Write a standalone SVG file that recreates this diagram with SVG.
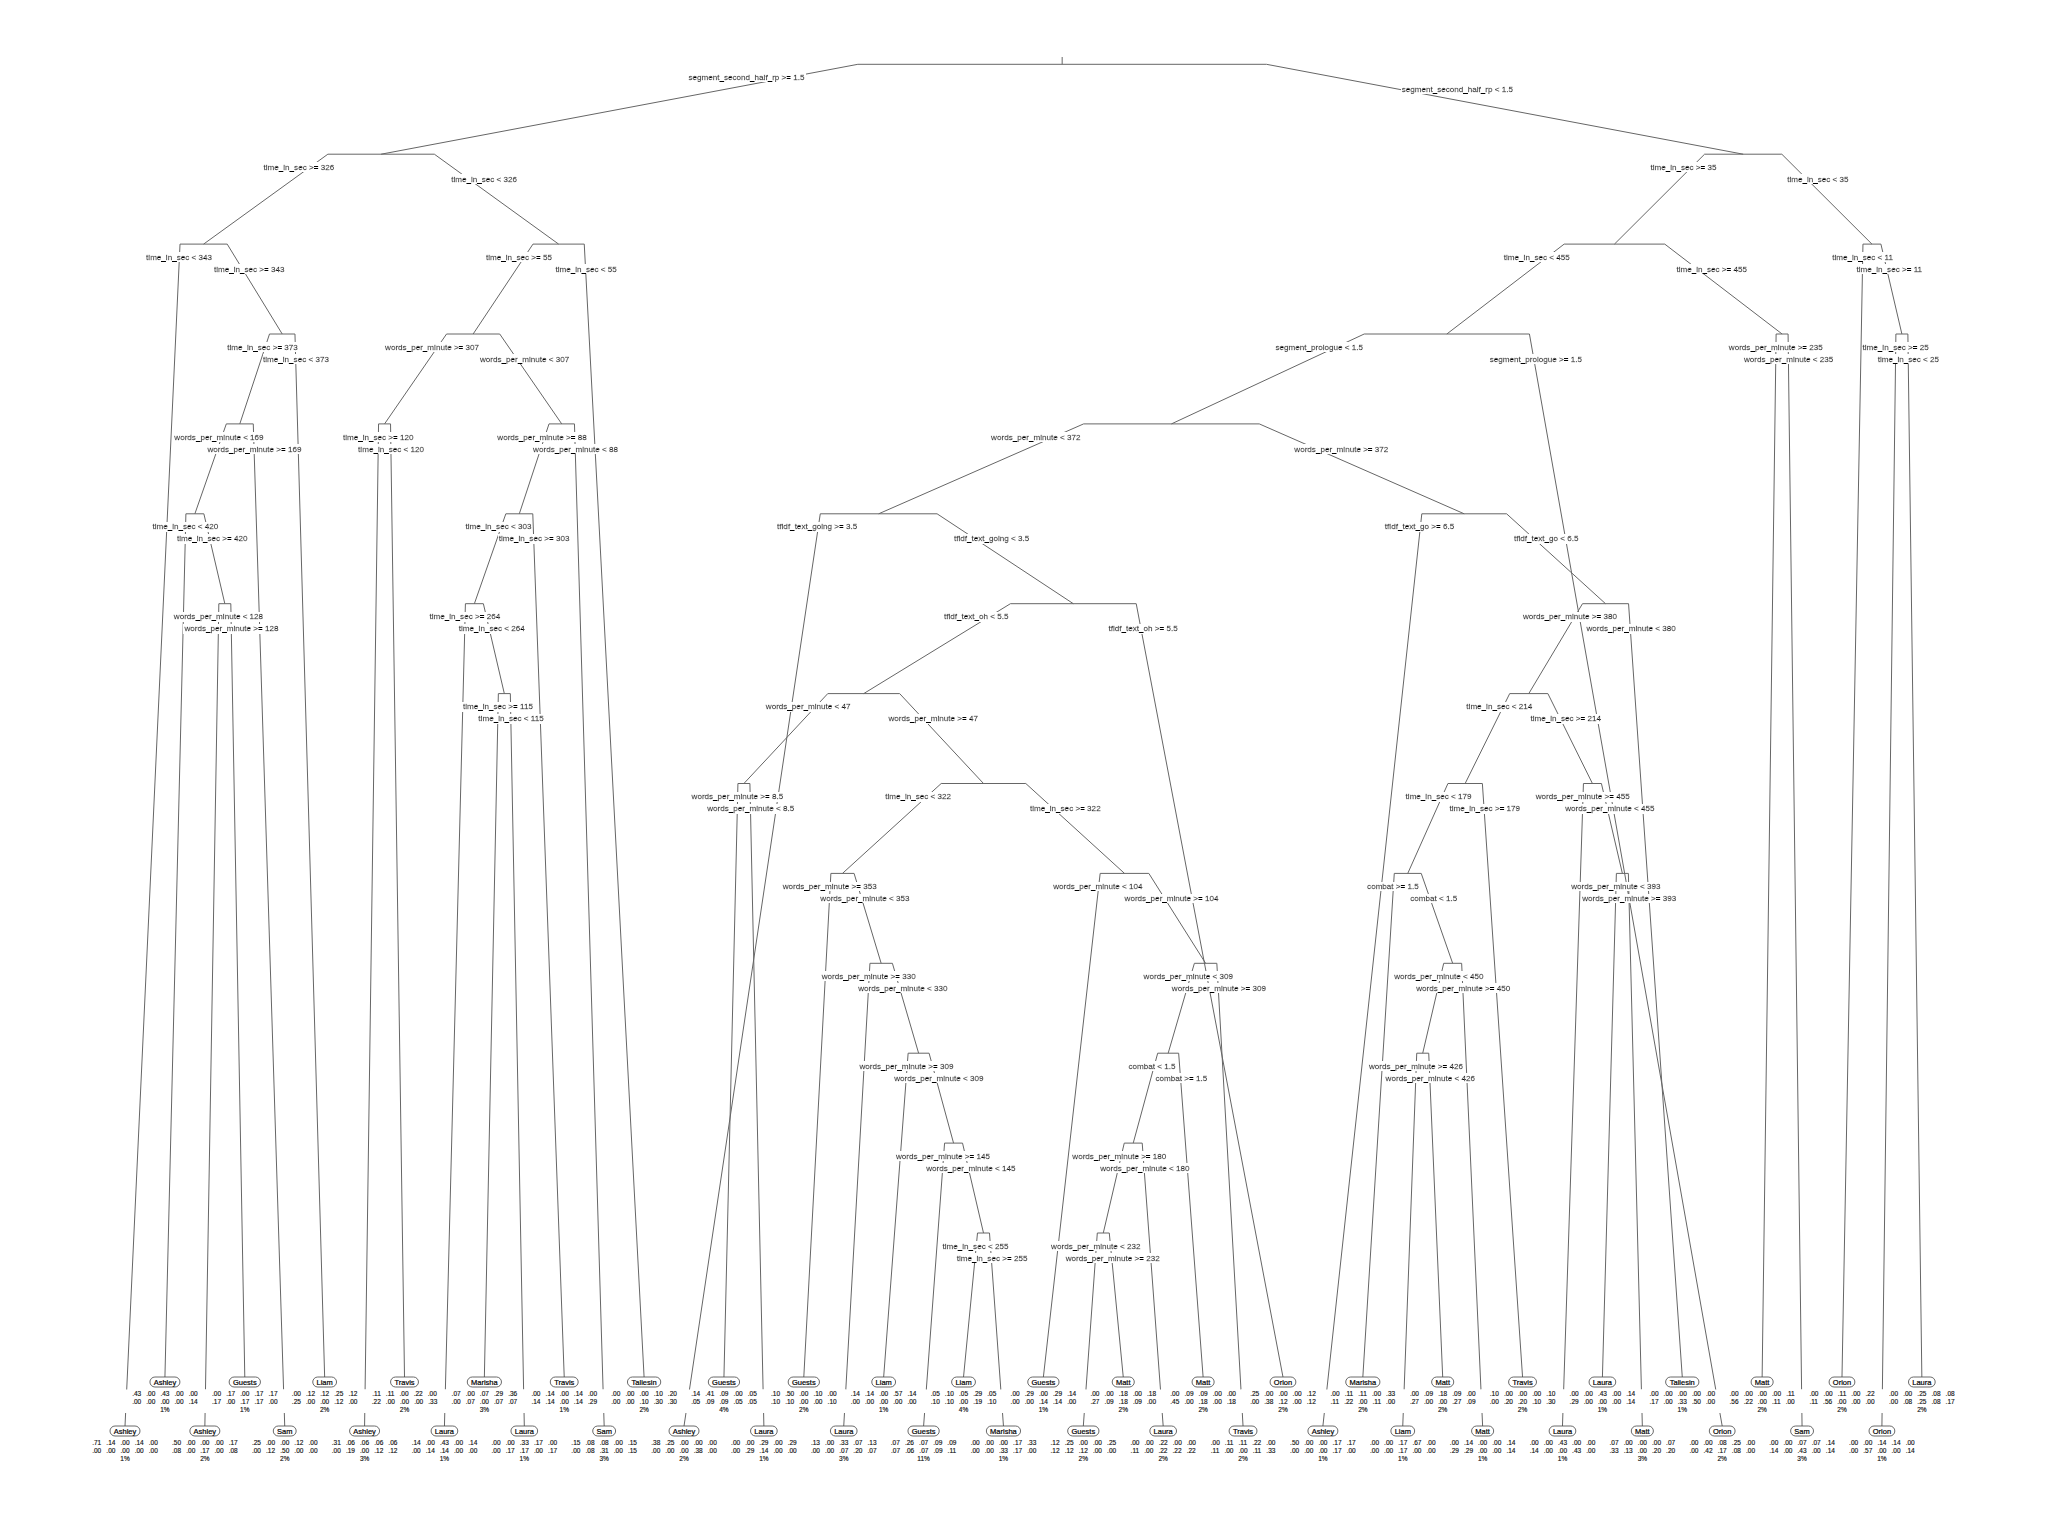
<svg xmlns="http://www.w3.org/2000/svg" width="2048" height="1536" viewBox="0 0 2048 1536">
<defs>
<filter id="bg" x="0" y="0" width="1" height="1"><feFlood flood-color="#fff"/><feComposite in="SourceGraphic" operator="over"/></filter>
<style>
.c path{fill:none;stroke:#666;stroke-width:1}
.s{font-family:"Liberation Sans",Arial,sans-serif;font-size:8.1px;text-anchor:middle;fill:#000;stroke:#000;stroke-width:0.3px;filter:url(#bg)}
.b{fill:#fff;stroke:#444;stroke-width:0.8}
.n{font-family:"Liberation Sans",Arial,sans-serif;font-size:7.5px;text-anchor:middle;fill:#000;stroke:#000;stroke-width:0.2px}
.p{font-family:"Liberation Sans",Arial,sans-serif;font-size:6.5px;text-anchor:middle;fill:#111;stroke:#111;stroke-width:0.15px;word-spacing:3.3px}
.w{fill:#fff}
</style>
</defs>
<rect width="2048" height="1536" fill="#fff"/>

<!-- branches: each split draws a short bar at its own level and a line to each child -->
<g class="c" id="connectors">
<path d="M1062.16,57V64.3"/>
<path d="M381.11,154.2L857.85,64.3L1266.47,64.3L1743.2,154.2"/>
<path d="M203.61,244.1L327.86,154.2L434.36,154.2L558.61,244.1"/>
<path d="M125,1426L180.03,244.1L227.19,244.1L282.23,334"/>
<path d="M239.8,423.9L269.5,334L294.96,334L324.65,1377"/>
<path d="M194.88,513.8L226.32,423.9L253.28,423.9L284.72,1426"/>
<path d="M164.93,1377L185.9,513.8L203.86,513.8L224.83,603.7"/>
<path d="M204.86,1426L218.84,603.7L230.82,603.7L244.79,1377"/>
<path d="M473.14,334L532.97,244.1L584.25,244.1L644.09,1377"/>
<path d="M384.55,423.9L446.56,334L499.72,334L561.73,423.9"/>
<path d="M364.58,1426L378.56,423.9L390.54,423.9L404.51,1377"/>
<path d="M519.31,513.8L549,423.9L574.46,423.9L604.16,1426"/>
<path d="M474.39,603.7L505.83,513.8L532.79,513.8L564.23,1377"/>
<path d="M444.44,1426L465.41,603.7L483.37,603.7L504.34,693.6"/>
<path d="M484.37,1377L498.35,693.6L510.33,693.6L524.3,1426"/>
<path d="M1614.46,244.1L1704.58,154.2L1781.82,154.2L1871.94,244.1"/>
<path d="M1446.82,334L1564.17,244.1L1664.75,244.1L1782.1,334"/>
<path d="M1841.99,1377L1862.96,244.1L1880.92,244.1L1901.89,334"/>
<path d="M1881.92,1426L1895.9,334L1907.88,334L1921.85,1377"/>
<path d="M1762.13,1377L1776.11,334L1788.09,334L1802.06,1426"/>
<path d="M1171.45,423.9L1364.21,334L1529.43,334L1722.2,1426"/>
<path d="M878.68,513.8L1083.62,423.9L1259.28,423.9L1464.21,513.8"/>
<path d="M684.02,1426L820.28,513.8L937.08,513.8L1073.34,603.7"/>
<path d="M863.71,693.6L1010.45,603.7L1136.23,603.7L1282.97,1377"/>
<path d="M743.92,783.5L827.77,693.6L899.65,693.6L983.5,783.5"/>
<path d="M723.95,1377L737.93,783.5L749.91,783.5L763.88,1426"/>
<path d="M842.49,873.4L941.2,783.5L1025.8,783.5L1124.5,873.4"/>
<path d="M803.81,1377L830.89,873.4L854.09,873.4L881.17,963.3"/>
<path d="M843.74,1426L869.94,963.3L892.4,963.3L918.61,1053.2"/>
<path d="M883.67,1377L908.13,1053.2L929.09,1053.2L953.55,1143.1"/>
<path d="M923.6,1426L944.57,1143.1L962.53,1143.1L983.5,1233"/>
<path d="M963.53,1377L977.51,1233L989.49,1233L1003.46,1426"/>
<path d="M1043.39,1377L1100.17,873.4L1148.83,873.4L1205.61,963.3"/>
<path d="M1168.17,1053.2L1194.38,963.3L1216.84,963.3L1243.04,1426"/>
<path d="M1133.23,1143.1L1157.69,1053.2L1178.65,1053.2L1203.11,1377"/>
<path d="M1103.29,1233L1124.25,1143.1L1142.21,1143.1L1163.18,1426"/>
<path d="M1083.32,1426L1097.3,1233L1109.28,1233L1123.25,1377"/>
<path d="M1322.9,1426L1421.81,513.8L1506.61,513.8L1605.53,603.7"/>
<path d="M1528.79,693.6L1582.51,603.7L1628.55,603.7L1682.27,1377"/>
<path d="M1465.15,783.5L1509.7,693.6L1547.88,693.6L1592.43,783.5"/>
<path d="M1407.75,873.4L1447.93,783.5L1482.37,783.5L1522.55,1377"/>
<path d="M1362.83,1377L1394.27,873.4L1421.23,873.4L1452.67,963.3"/>
<path d="M1422.73,1053.2L1443.69,963.3L1461.65,963.3L1482.62,1426"/>
<path d="M1402.76,1426L1416.74,1053.2L1428.72,1053.2L1442.69,1377"/>
<path d="M1562.48,1426L1583.45,783.5L1601.41,783.5L1622.38,873.4"/>
<path d="M1602.41,1377L1616.39,873.4L1628.37,873.4L1642.34,1426"/>
</g>

<!-- split nodes: condition labels sit on the left and right branches -->
<g id="split-root"><text class="s" x="746.5" y="79.9">segment_second_half_rp &gt;= 1.5</text><text class="s" x="1457.37" y="91.9">segment_second_half_rp &lt; 1.5</text></g>
<g id="split-L1"><text class="s" x="298.84" y="169.8">time_in_sec &gt;= 326</text><text class="s" x="484.11" y="181.8">time_in_sec &lt; 326</text></g>
<g id="split-L2a"><text class="s" x="179.05" y="259.7">time_in_sec &lt; 343</text><text class="s" x="249.23" y="271.7">time_in_sec &gt;= 343</text></g>
<g id="split-L3"><text class="s" x="262.56" y="349.6">time_in_sec &gt;= 373</text><text class="s" x="295.98" y="361.6">time_in_sec &lt; 373</text></g>
<g id="split-L4"><text class="s" x="218.98" y="439.5">words_per_minute &lt; 169</text><text class="s" x="254.41" y="451.5">words_per_minute &gt;= 169</text></g>
<g id="split-L5"><text class="s" x="185.39" y="529.4">time_in_sec &lt; 420</text><text class="s" x="212.26" y="541.4">time_in_sec &gt;= 420</text></g>
<g id="split-L6"><text class="s" x="218.48" y="619.3">words_per_minute &lt; 128</text><text class="s" x="231.47" y="631.3">words_per_minute &gt;= 128</text></g>
<g id="split-L2b"><text class="s" x="518.99" y="259.7">time_in_sec &gt;= 55</text><text class="s" x="586.15" y="271.7">time_in_sec &lt; 55</text></g>
<g id="split-L3b"><text class="s" x="432.08" y="349.6">words_per_minute &gt;= 307</text><text class="s" x="524.55" y="361.6">words_per_minute &lt; 307</text></g>
<g id="split-L4b"><text class="s" x="378.27" y="439.5">time_in_sec &gt;= 120</text><text class="s" x="391.07" y="451.5">time_in_sec &lt; 120</text></g>
<g id="split-L4c"><text class="s" x="542.06" y="439.5">words_per_minute &gt;= 88</text><text class="s" x="575.53" y="451.5">words_per_minute &lt; 88</text></g>
<g id="split-L5c"><text class="s" x="498.49" y="529.4">time_in_sec &lt; 303</text><text class="s" x="534.1" y="541.4">time_in_sec &gt;= 303</text></g>
<g id="split-L6c"><text class="s" x="464.87" y="619.3">time_in_sec &gt;= 264</text><text class="s" x="491.77" y="631.3">time_in_sec &lt; 264</text></g>
<g id="split-L7c"><text class="s" x="497.92" y="709.2">time_in_sec &gt;= 115</text><text class="s" x="511.02" y="721.2">time_in_sec &lt; 115</text></g>
<g id="split-R1"><text class="s" x="1683.53" y="169.8">time_in_sec &gt;= 35</text><text class="s" x="1817.91" y="181.8">time_in_sec &lt; 35</text></g>
<g id="split-R2a"><text class="s" x="1536.76" y="259.7">time_in_sec &lt; 455</text><text class="s" x="1711.74" y="271.7">time_in_sec &gt;= 455</text></g>
<g id="split-R2b"><text class="s" x="1862.57" y="259.7">time_in_sec &lt; 11</text><text class="s" x="1889.32" y="271.7">time_in_sec &gt;= 11</text></g>
<g id="split-R3b"><text class="s" x="1895.63" y="349.6">time_in_sec &gt;= 25</text><text class="s" x="1908.36" y="361.6">time_in_sec &lt; 25</text></g>
<g id="split-R3c"><text class="s" x="1775.83" y="349.6">words_per_minute &gt;= 235</text><text class="s" x="1788.55" y="361.6">words_per_minute &lt; 235</text></g>
<g id="split-R3a"><text class="s" x="1319.18" y="349.6">segment_prologue &lt; 1.5</text><text class="s" x="1535.79" y="361.6">segment_prologue &gt;= 1.5</text></g>
<g id="split-R4a"><text class="s" x="1035.75" y="439.5">words_per_minute &lt; 372</text><text class="s" x="1341.34" y="451.5">words_per_minute &gt;= 372</text></g>
<g id="split-R5a"><text class="s" x="817.14" y="529.4">tfidf_text_going &gt;= 3.5</text><text class="s" x="991.64" y="541.4">tfidf_text_going &lt; 3.5</text></g>
<g id="split-R6b"><text class="s" x="976.18" y="619.3">tfidf_text_oh &lt; 5.5</text><text class="s" x="1143.06" y="631.3">tfidf_text_oh &gt;= 5.5</text></g>
<g id="split-R7a"><text class="s" x="808.19" y="709.2">words_per_minute &lt; 47</text><text class="s" x="933.22" y="721.2">words_per_minute &gt;= 47</text></g>
<g id="split-R8a"><text class="s" x="737.44" y="799.1">words_per_minute &gt;= 8.5</text><text class="s" x="750.69" y="811.1">words_per_minute &lt; 8.5</text></g>
<g id="split-R8b"><text class="s" x="918.15" y="799.1">time_in_sec &lt; 322</text><text class="s" x="1065.32" y="811.1">time_in_sec &gt;= 322</text></g>
<g id="split-R9a"><text class="s" x="829.76" y="889">words_per_minute &gt;= 353</text><text class="s" x="864.94" y="901">words_per_minute &lt; 353</text></g>
<g id="split-R10a"><text class="s" x="868.75" y="978.9">words_per_minute &gt;= 330</text><text class="s" x="902.89" y="990.9">words_per_minute &lt; 330</text></g>
<g id="split-R11a"><text class="s" x="906.55" y="1068.8">words_per_minute &gt;= 309</text><text class="s" x="938.89" y="1080.8">words_per_minute &lt; 309</text></g>
<g id="split-R12a"><text class="s" x="943.01" y="1158.7">words_per_minute &gt;= 145</text><text class="s" x="970.93" y="1170.7">words_per_minute &lt; 145</text></g>
<g id="split-R13a"><text class="s" x="975.48" y="1248.6">time_in_sec &lt; 255</text><text class="s" x="992.1" y="1260.6">time_in_sec &gt;= 255</text></g>
<g id="split-R9b"><text class="s" x="1097.8" y="889">words_per_minute &lt; 104</text><text class="s" x="1171.57" y="901">words_per_minute &gt;= 104</text></g>
<g id="split-R10b"><text class="s" x="1188.26" y="978.9">words_per_minute &lt; 309</text><text class="s" x="1218.88" y="990.9">words_per_minute &gt;= 309</text></g>
<g id="split-R11b"><text class="s" x="1151.98" y="1068.8">combat &lt; 1.5</text><text class="s" x="1181.37" y="1080.8">combat &gt;= 1.5</text></g>
<g id="split-R12b"><text class="s" x="1119.35" y="1158.7">words_per_minute &gt;= 180</text><text class="s" x="1144.88" y="1170.7">words_per_minute &lt; 180</text></g>
<g id="split-R13b"><text class="s" x="1095.78" y="1248.6">words_per_minute &lt; 232</text><text class="s" x="1112.77" y="1260.6">words_per_minute &gt;= 232</text></g>
<g id="split-R5b"><text class="s" x="1419.53" y="529.4">tfidf_text_go &gt;= 6.5</text><text class="s" x="1546.22" y="541.4">tfidf_text_go &lt; 6.5</text></g>
<g id="split-R6c"><text class="s" x="1569.96" y="619.3">words_per_minute &gt;= 380</text><text class="s" x="1631.05" y="631.3">words_per_minute &lt; 380</text></g>
<g id="split-R7c"><text class="s" x="1499.29" y="709.2">time_in_sec &lt; 214</text><text class="s" x="1565.72" y="721.2">time_in_sec &gt;= 214</text></g>
<g id="split-R8c"><text class="s" x="1438.55" y="799.1">time_in_sec &lt; 179</text><text class="s" x="1484.81" y="811.1">time_in_sec &gt;= 179</text></g>
<g id="split-R9c"><text class="s" x="1392.96" y="889">combat &gt;= 1.5</text><text class="s" x="1433.82" y="901">combat &lt; 1.5</text></g>
<g id="split-R10c"><text class="s" x="1438.79" y="978.9">words_per_minute &lt; 450</text><text class="s" x="1463.28" y="990.9">words_per_minute &gt;= 450</text></g>
<g id="split-R11c"><text class="s" x="1415.95" y="1068.8">words_per_minute &gt;= 426</text><text class="s" x="1430.27" y="1080.8">words_per_minute &lt; 426</text></g>
<g id="split-R8d"><text class="s" x="1582.76" y="799.1">words_per_minute &gt;= 455</text><text class="s" x="1609.81" y="811.1">words_per_minute &lt; 455</text></g>
<g id="split-R9d"><text class="s" x="1615.81" y="889">words_per_minute &lt; 393</text><text class="s" x="1629.28" y="901">words_per_minute &gt;= 393</text></g>

<!-- leaves: class box, class probabilities (two rows of five) and share of observations -->
<g id="leaf0" transform="translate(125,1426)"><rect class="b" x="-15" y="0" width="30" height="10" rx="5"/><text class="n" y="7.7">Ashley</text><text class="p" y="19.3">.71 .14 .00 .14 .00</text><text class="p" y="27.3">.00 .00 .00 .00 .00</text><text class="p" y="35">1%</text></g>
<g id="leaf1" transform="translate(164.93,1377)"><rect class="w" x="-42" y="12.5" width="84" height="23.5"/><rect class="b" x="-15" y="0" width="30" height="10" rx="5"/><text class="n" y="7.7">Ashley</text><text class="p" y="19.3">.43 .00 .43 .00 .00</text><text class="p" y="27.3">.00 .00 .00 .00 .14</text><text class="p" y="35">1%</text></g>
<g id="leaf2" transform="translate(204.86,1426)"><rect class="b" x="-15" y="0" width="30" height="10" rx="5"/><text class="n" y="7.7">Ashley</text><text class="p" y="19.3">.50 .00 .00 .00 .17</text><text class="p" y="27.3">.08 .00 .17 .00 .08</text><text class="p" y="35">2%</text></g>
<g id="leaf3" transform="translate(244.79,1377)"><rect class="w" x="-42" y="12.5" width="84" height="23.5"/><rect class="b" x="-15.65" y="0" width="31.3" height="10" rx="5"/><text class="n" y="7.7">Guests</text><text class="p" y="19.3">.00 .17 .00 .17 .17</text><text class="p" y="27.3">.17 .00 .17 .17 .00</text><text class="p" y="35">1%</text></g>
<g id="leaf4" transform="translate(284.72,1426)"><rect class="b" x="-11.45" y="0" width="22.9" height="10" rx="5"/><text class="n" y="7.7">Sam</text><text class="p" y="19.3">.25 .00 .00 .12 .00</text><text class="p" y="27.3">.00 .12 .50 .00 .00</text><text class="p" y="35">2%</text></g>
<g id="leaf5" transform="translate(324.65,1377)"><rect class="w" x="-42" y="12.5" width="84" height="23.5"/><rect class="b" x="-11.9" y="0" width="23.8" height="10" rx="5"/><text class="n" y="7.7">Liam</text><text class="p" y="19.3">.00 .12 .12 .25 .12</text><text class="p" y="27.3">.25 .00 .00 .12 .00</text><text class="p" y="35">2%</text></g>
<g id="leaf6" transform="translate(364.58,1426)"><rect class="b" x="-15" y="0" width="30" height="10" rx="5"/><text class="n" y="7.7">Ashley</text><text class="p" y="19.3">.31 .06 .06 .06 .06</text><text class="p" y="27.3">.00 .19 .00 .12 .12</text><text class="p" y="35">3%</text></g>
<g id="leaf7" transform="translate(404.51,1377)"><rect class="w" x="-42" y="12.5" width="84" height="23.5"/><rect class="b" x="-13.95" y="0" width="27.9" height="10" rx="5"/><text class="n" y="7.7">Travis</text><text class="p" y="19.3">.11 .11 .00 .22 .00</text><text class="p" y="27.3">.22 .00 .00 .00 .33</text><text class="p" y="35">2%</text></g>
<g id="leaf8" transform="translate(444.44,1426)"><rect class="b" x="-13.35" y="0" width="26.7" height="10" rx="5"/><text class="n" y="7.7">Laura</text><text class="p" y="19.3">.14 .00 .43 .00 .14</text><text class="p" y="27.3">.00 .14 .14 .00 .00</text><text class="p" y="35">1%</text></g>
<g id="leaf9" transform="translate(484.37,1377)"><rect class="w" x="-42" y="12.5" width="84" height="23.5"/><rect class="b" x="-17.1" y="0" width="34.2" height="10" rx="5"/><text class="n" y="7.7">Marisha</text><text class="p" y="19.3">.07 .00 .07 .29 .36</text><text class="p" y="27.3">.00 .07 .00 .07 .07</text><text class="p" y="35">3%</text></g>
<g id="leaf10" transform="translate(524.3,1426)"><rect class="b" x="-13.35" y="0" width="26.7" height="10" rx="5"/><text class="n" y="7.7">Laura</text><text class="p" y="19.3">.00 .00 .33 .17 .00</text><text class="p" y="27.3">.00 .17 .17 .00 .17</text><text class="p" y="35">1%</text></g>
<g id="leaf11" transform="translate(564.23,1377)"><rect class="w" x="-42" y="12.5" width="84" height="23.5"/><rect class="b" x="-13.95" y="0" width="27.9" height="10" rx="5"/><text class="n" y="7.7">Travis</text><text class="p" y="19.3">.00 .14 .00 .14 .00</text><text class="p" y="27.3">.14 .14 .00 .14 .29</text><text class="p" y="35">1%</text></g>
<g id="leaf12" transform="translate(604.16,1426)"><rect class="b" x="-11.45" y="0" width="22.9" height="10" rx="5"/><text class="n" y="7.7">Sam</text><text class="p" y="19.3">.15 .08 .08 .00 .15</text><text class="p" y="27.3">.00 .08 .31 .00 .15</text><text class="p" y="35">3%</text></g>
<g id="leaf13" transform="translate(644.09,1377)"><rect class="w" x="-42" y="12.5" width="84" height="23.5"/><rect class="b" x="-16.65" y="0" width="33.3" height="10" rx="5"/><text class="n" y="7.7">Taliesin</text><text class="p" y="19.3">.00 .00 .00 .10 .20</text><text class="p" y="27.3">.00 .00 .10 .30 .30</text><text class="p" y="35">2%</text></g>
<g id="leaf14" transform="translate(684.02,1426)"><rect class="b" x="-15" y="0" width="30" height="10" rx="5"/><text class="n" y="7.7">Ashley</text><text class="p" y="19.3">.38 .25 .00 .00 .00</text><text class="p" y="27.3">.00 .00 .00 .38 .00</text><text class="p" y="35">2%</text></g>
<g id="leaf15" transform="translate(723.95,1377)"><rect class="w" x="-42" y="12.5" width="84" height="23.5"/><rect class="b" x="-15.65" y="0" width="31.3" height="10" rx="5"/><text class="n" y="7.7">Guests</text><text class="p" y="19.3">.14 .41 .09 .00 .05</text><text class="p" y="27.3">.05 .09 .09 .05 .05</text><text class="p" y="35">4%</text></g>
<g id="leaf16" transform="translate(763.88,1426)"><rect class="b" x="-13.35" y="0" width="26.7" height="10" rx="5"/><text class="n" y="7.7">Laura</text><text class="p" y="19.3">.00 .00 .29 .00 .29</text><text class="p" y="27.3">.00 .29 .14 .00 .00</text><text class="p" y="35">1%</text></g>
<g id="leaf17" transform="translate(803.81,1377)"><rect class="w" x="-42" y="12.5" width="84" height="23.5"/><rect class="b" x="-15.65" y="0" width="31.3" height="10" rx="5"/><text class="n" y="7.7">Guests</text><text class="p" y="19.3">.10 .50 .00 .10 .00</text><text class="p" y="27.3">.10 .10 .00 .00 .10</text><text class="p" y="35">2%</text></g>
<g id="leaf18" transform="translate(843.74,1426)"><rect class="b" x="-13.35" y="0" width="26.7" height="10" rx="5"/><text class="n" y="7.7">Laura</text><text class="p" y="19.3">.13 .00 .33 .07 .13</text><text class="p" y="27.3">.00 .00 .07 .20 .07</text><text class="p" y="35">3%</text></g>
<g id="leaf19" transform="translate(883.67,1377)"><rect class="w" x="-42" y="12.5" width="84" height="23.5"/><rect class="b" x="-11.9" y="0" width="23.8" height="10" rx="5"/><text class="n" y="7.7">Liam</text><text class="p" y="19.3">.14 .14 .00 .57 .14</text><text class="p" y="27.3">.00 .00 .00 .00 .00</text><text class="p" y="35">1%</text></g>
<g id="leaf20" transform="translate(923.6,1426)"><rect class="b" x="-15.65" y="0" width="31.3" height="10" rx="5"/><text class="n" y="7.7">Guests</text><text class="p" y="19.3">.07 .26 .07 .09 .09</text><text class="p" y="27.3">.07 .06 .07 .09 .11</text><text class="p" y="35">11%</text></g>
<g id="leaf21" transform="translate(963.53,1377)"><rect class="w" x="-42" y="12.5" width="84" height="23.5"/><rect class="b" x="-11.9" y="0" width="23.8" height="10" rx="5"/><text class="n" y="7.7">Liam</text><text class="p" y="19.3">.05 .10 .05 .29 .05</text><text class="p" y="27.3">.10 .10 .00 .19 .10</text><text class="p" y="35">4%</text></g>
<g id="leaf22" transform="translate(1003.46,1426)"><rect class="b" x="-17.1" y="0" width="34.2" height="10" rx="5"/><text class="n" y="7.7">Marisha</text><text class="p" y="19.3">.00 .00 .00 .17 .33</text><text class="p" y="27.3">.00 .00 .33 .17 .00</text><text class="p" y="35">1%</text></g>
<g id="leaf23" transform="translate(1043.39,1377)"><rect class="w" x="-42" y="12.5" width="84" height="23.5"/><rect class="b" x="-15.65" y="0" width="31.3" height="10" rx="5"/><text class="n" y="7.7">Guests</text><text class="p" y="19.3">.00 .29 .00 .29 .14</text><text class="p" y="27.3">.00 .00 .14 .14 .00</text><text class="p" y="35">1%</text></g>
<g id="leaf24" transform="translate(1083.32,1426)"><rect class="b" x="-15.65" y="0" width="31.3" height="10" rx="5"/><text class="n" y="7.7">Guests</text><text class="p" y="19.3">.12 .25 .00 .00 .25</text><text class="p" y="27.3">.12 .12 .12 .00 .00</text><text class="p" y="35">2%</text></g>
<g id="leaf25" transform="translate(1123.25,1377)"><rect class="w" x="-42" y="12.5" width="84" height="23.5"/><rect class="b" x="-11.05" y="0" width="22.1" height="10" rx="5"/><text class="n" y="7.7">Matt</text><text class="p" y="19.3">.00 .00 .18 .00 .18</text><text class="p" y="27.3">.27 .09 .18 .09 .00</text><text class="p" y="35">2%</text></g>
<g id="leaf26" transform="translate(1163.18,1426)"><rect class="b" x="-13.35" y="0" width="26.7" height="10" rx="5"/><text class="n" y="7.7">Laura</text><text class="p" y="19.3">.00 .00 .22 .00 .00</text><text class="p" y="27.3">.11 .00 .22 .22 .22</text><text class="p" y="35">2%</text></g>
<g id="leaf27" transform="translate(1203.11,1377)"><rect class="w" x="-42" y="12.5" width="84" height="23.5"/><rect class="b" x="-11.05" y="0" width="22.1" height="10" rx="5"/><text class="n" y="7.7">Matt</text><text class="p" y="19.3">.00 .09 .09 .00 .00</text><text class="p" y="27.3">.45 .00 .18 .00 .18</text><text class="p" y="35">2%</text></g>
<g id="leaf28" transform="translate(1243.04,1426)"><rect class="b" x="-13.95" y="0" width="27.9" height="10" rx="5"/><text class="n" y="7.7">Travis</text><text class="p" y="19.3">.00 .11 .11 .22 .00</text><text class="p" y="27.3">.11 .00 .00 .11 .33</text><text class="p" y="35">2%</text></g>
<g id="leaf29" transform="translate(1282.97,1377)"><rect class="w" x="-42" y="12.5" width="84" height="23.5"/><rect class="b" x="-12.9" y="0" width="25.8" height="10" rx="5"/><text class="n" y="7.7">Orion</text><text class="p" y="19.3">.25 .00 .00 .00 .12</text><text class="p" y="27.3">.00 .38 .12 .00 .12</text><text class="p" y="35">2%</text></g>
<g id="leaf30" transform="translate(1322.9,1426)"><rect class="b" x="-15" y="0" width="30" height="10" rx="5"/><text class="n" y="7.7">Ashley</text><text class="p" y="19.3">.50 .00 .00 .17 .17</text><text class="p" y="27.3">.00 .00 .00 .17 .00</text><text class="p" y="35">1%</text></g>
<g id="leaf31" transform="translate(1362.83,1377)"><rect class="w" x="-42" y="12.5" width="84" height="23.5"/><rect class="b" x="-17.1" y="0" width="34.2" height="10" rx="5"/><text class="n" y="7.7">Marisha</text><text class="p" y="19.3">.00 .11 .11 .00 .33</text><text class="p" y="27.3">.11 .22 .00 .11 .00</text><text class="p" y="35">2%</text></g>
<g id="leaf32" transform="translate(1402.76,1426)"><rect class="b" x="-11.9" y="0" width="23.8" height="10" rx="5"/><text class="n" y="7.7">Liam</text><text class="p" y="19.3">.00 .00 .17 .67 .00</text><text class="p" y="27.3">.00 .00 .17 .00 .00</text><text class="p" y="35">1%</text></g>
<g id="leaf33" transform="translate(1442.69,1377)"><rect class="w" x="-42" y="12.5" width="84" height="23.5"/><rect class="b" x="-11.05" y="0" width="22.1" height="10" rx="5"/><text class="n" y="7.7">Matt</text><text class="p" y="19.3">.00 .09 .18 .09 .00</text><text class="p" y="27.3">.27 .00 .00 .27 .09</text><text class="p" y="35">2%</text></g>
<g id="leaf34" transform="translate(1482.62,1426)"><rect class="b" x="-11.05" y="0" width="22.1" height="10" rx="5"/><text class="n" y="7.7">Matt</text><text class="p" y="19.3">.00 .14 .00 .00 .14</text><text class="p" y="27.3">.29 .29 .00 .00 .14</text><text class="p" y="35">1%</text></g>
<g id="leaf35" transform="translate(1522.55,1377)"><rect class="w" x="-42" y="12.5" width="84" height="23.5"/><rect class="b" x="-13.95" y="0" width="27.9" height="10" rx="5"/><text class="n" y="7.7">Travis</text><text class="p" y="19.3">.10 .00 .00 .00 .10</text><text class="p" y="27.3">.00 .20 .20 .10 .30</text><text class="p" y="35">2%</text></g>
<g id="leaf36" transform="translate(1562.48,1426)"><rect class="b" x="-13.35" y="0" width="26.7" height="10" rx="5"/><text class="n" y="7.7">Laura</text><text class="p" y="19.3">.00 .00 .43 .00 .00</text><text class="p" y="27.3">.14 .00 .00 .43 .00</text><text class="p" y="35">1%</text></g>
<g id="leaf37" transform="translate(1602.41,1377)"><rect class="w" x="-42" y="12.5" width="84" height="23.5"/><rect class="b" x="-13.35" y="0" width="26.7" height="10" rx="5"/><text class="n" y="7.7">Laura</text><text class="p" y="19.3">.00 .00 .43 .00 .14</text><text class="p" y="27.3">.29 .00 .00 .00 .14</text><text class="p" y="35">1%</text></g>
<g id="leaf38" transform="translate(1642.34,1426)"><rect class="b" x="-11.05" y="0" width="22.1" height="10" rx="5"/><text class="n" y="7.7">Matt</text><text class="p" y="19.3">.07 .00 .00 .00 .07</text><text class="p" y="27.3">.33 .13 .00 .20 .20</text><text class="p" y="35">3%</text></g>
<g id="leaf39" transform="translate(1682.27,1377)"><rect class="w" x="-42" y="12.5" width="84" height="23.5"/><rect class="b" x="-16.65" y="0" width="33.3" height="10" rx="5"/><text class="n" y="7.7">Taliesin</text><text class="p" y="19.3">.00 .00 .00 .00 .00</text><text class="p" y="27.3">.17 .00 .33 .50 .00</text><text class="p" y="35">1%</text></g>
<g id="leaf40" transform="translate(1722.2,1426)"><rect class="b" x="-12.9" y="0" width="25.8" height="10" rx="5"/><text class="n" y="7.7">Orion</text><text class="p" y="19.3">.00 .00 .08 .25 .00</text><text class="p" y="27.3">.00 .42 .17 .08 .00</text><text class="p" y="35">2%</text></g>
<g id="leaf41" transform="translate(1762.13,1377)"><rect class="w" x="-42" y="12.5" width="84" height="23.5"/><rect class="b" x="-11.05" y="0" width="22.1" height="10" rx="5"/><text class="n" y="7.7">Matt</text><text class="p" y="19.3">.00 .00 .00 .00 .11</text><text class="p" y="27.3">.56 .22 .00 .11 .00</text><text class="p" y="35">2%</text></g>
<g id="leaf42" transform="translate(1802.06,1426)"><rect class="b" x="-11.45" y="0" width="22.9" height="10" rx="5"/><text class="n" y="7.7">Sam</text><text class="p" y="19.3">.00 .00 .07 .07 .14</text><text class="p" y="27.3">.14 .00 .43 .00 .14</text><text class="p" y="35">3%</text></g>
<g id="leaf43" transform="translate(1841.99,1377)"><rect class="w" x="-42" y="12.5" width="84" height="23.5"/><rect class="b" x="-12.9" y="0" width="25.8" height="10" rx="5"/><text class="n" y="7.7">Orion</text><text class="p" y="19.3">.00 .00 .11 .00 .22</text><text class="p" y="27.3">.11 .56 .00 .00 .00</text><text class="p" y="35">2%</text></g>
<g id="leaf44" transform="translate(1881.92,1426)"><rect class="b" x="-12.9" y="0" width="25.8" height="10" rx="5"/><text class="n" y="7.7">Orion</text><text class="p" y="19.3">.00 .00 .14 .14 .00</text><text class="p" y="27.3">.00 .57 .00 .00 .14</text><text class="p" y="35">1%</text></g>
<g id="leaf45" transform="translate(1921.85,1377)"><rect class="w" x="-42" y="12.5" width="84" height="23.5"/><rect class="b" x="-13.35" y="0" width="26.7" height="10" rx="5"/><text class="n" y="7.7">Laura</text><text class="p" y="19.3">.00 .00 .25 .08 .08</text><text class="p" y="27.3">.00 .08 .25 .08 .17</text><text class="p" y="35">2%</text></g>
</svg>
